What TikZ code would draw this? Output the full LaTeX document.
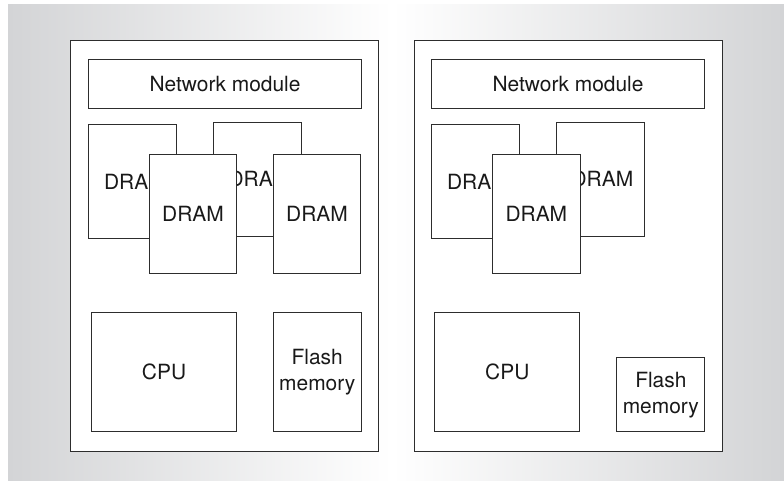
\documentclass[tikz,border=0pt]{standalone}
\usepackage{fontspec}
\setmainfont{TeX Gyre Heros}
\definecolor{bggray}{RGB}{211,212,214}
\definecolor{linegray}{RGB}{45,45,45}

\begin{document}
\begin{tikzpicture}[x=0.75pt,y=0.75pt,yscale=-1,xscale=1,
  part/.style={draw=linegray,line width=0.8pt,fill=white,anchor=north west,inner sep=0pt,
    align=center,text=black!90,font=\fontsize{15.7}{19.5}\selectfont},
  board/.style={part,minimum width=231pt,minimum height=308.25pt},
  netbox/.style={part,minimum width=204.75pt,minimum height=36.75pt},
  backdram/.style={part,minimum width=66pt,minimum height=85.5pt,
    execute at begin node={\hspace*{3.5pt}}},
  frontdram/.style={part,minimum width=65.7pt,minimum height=89.25pt},
  cpubox/.style={part,minimum width=108.75pt,minimum height=89.25pt},
  flashbox/.style={part,minimum width=66pt}]
\useasboundingbox (0,0) rectangle (784,480);

%Shape: Background, two shaded halves
\shade [left color=bggray,right color=white] (8,4) rectangle (392,480);
\shade [left color=white,right color=bggray] (392,4) rectangle (784,480);

%Shape: Rectangle, left board
\node [board] (boardL) at (70,40) {};
%Shape: Rectangle, right board
\node [board] (boardR) at (414,40) {};

% Text Node
\node [netbox] (netL) at (88,59) {Network module};
% Text Node
\node [netbox] (netR) at (431,59) {Network module};

%Shape: Rectangle, back DRAMs
\node [backdram] (dramLa) at (88,124) {DRAM};
\node [backdram] (dramLb) at (212.5,121.7) {DRAM};
\node [backdram] (dramRa) at (431,124) {DRAM};
\node [backdram] (dramRb) at (555.5,121.7) {DRAM};

%Shape: Rectangle, front DRAMs
\node [frontdram] (dramLc) at (148.7,154.3) {DRAM};
\node [frontdram] (dramLd) at (272.7,154.3) {DRAM};
\node [frontdram] (dramRc) at (492,154.3) {DRAM};

% Text Node
\node [cpubox] (cpuL) at (91,312.3) {CPU};
% Text Node
\node [cpubox] (cpuR) at (434.3,312.3) {CPU};

% Text Node
\node [flashbox,minimum height=89.25pt] (flashL) at (272.7,312.3) {Flash\\memory};
% Text Node
\node [flashbox,minimum height=55.7pt] (flashR) at (616.3,357) {Flash\\memory};

\end{tikzpicture}
\end{document}
